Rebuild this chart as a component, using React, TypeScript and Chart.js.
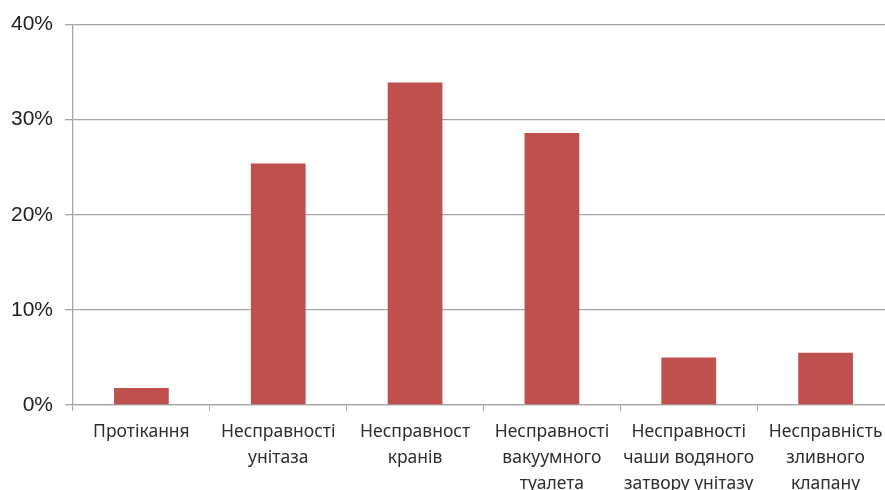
import React, { useEffect, useRef } from "react";
import { Chart, registerables } from "chart.js";

Chart.register(...registerables);

const categories: string[][] = [
  ["Протікання"],
  ["Несправності", "унітаза"],
  ["Несправност", "кранів"],
  ["Несправності", "вакуумного", "туалета"],
  ["Несправності", "чаши водяного", "затвору унітазу"],
  ["Несправність", "зливного", "клапану"],
];

const shares: number[] = [1.8, 25.4, 33.9, 28.6, 5.0, 5.5];

const yTicks: number[] = [0, 10, 20, 30, 40];

const BAR_COLOR = "#C0504D";
const GRID_COLOR = "#a6a6a6";

export default function App() {
  const ref = useRef<HTMLCanvasElement | null>(null);

  useEffect(() => {
    if (!ref.current) return;
    const chart = new Chart(ref.current, {
      type: "bar",
      data: {
        labels: categories,
        datasets: [
          {
            data: shares,
            backgroundColor: BAR_COLOR,
            borderWidth: 0,
            barPercentage: 0.4,
            categoryPercentage: 1,
          },
        ],
      },
      options: {
        responsive: false,
        animation: false,
        layout: { padding: { top: 24, right: 6, left: 0, bottom: 0 } },
        plugins: {
          legend: { display: false },
          tooltip: { enabled: false },
        },
        scales: {
          x: {
            offset: true,
            grid: {
              offset: true,
              drawOnChartArea: false,
              drawTicks: true,
              tickLength: 6,
              color: GRID_COLOR,
              lineWidth: 1,
            },
            border: { color: GRID_COLOR, width: 1.3 },
            ticks: {
              color: "#2e2e2e",
              padding: 8,
              maxRotation: 0,
              autoSkip: false,
              font: { family: "'Noto Sans', sans-serif", size: 17.5, lineHeight: 1.48 },
            },
            afterFit: (scale: any) => {
              scale.height = 85;
            },
          },
          y: {
            min: 0,
            max: 40,
            afterBuildTicks: (scale: any) => {
              scale.ticks = yTicks.map((v) => ({ value: v }));
            },
            grid: {
              color: GRID_COLOR,
              lineWidth: 1.3,
              tickLength: 8,
              drawTicks: true,
            },
            border: { color: GRID_COLOR, width: 1.3 },
            ticks: {
              color: "#222222",
              padding: 12,
              font: { family: "'Liberation Sans', Arial, sans-serif", size: 21 },
              callback: (v: any) => `${v}%`,
            },
            afterFit: (scale: any) => {
              scale.width = 73;
            },
          },
        },
      },
    });
    return () => chart.destroy();
  }, []);

  return (
    <div
      style={{
        position: "fixed",
        left: 0,
        top: 0,
        width: 885,
        height: 490,
        overflow: "hidden",
        background: "#ffffff",
      }}
    >
      <canvas ref={ref} width={900} height={490} />
    </div>
  );
}
